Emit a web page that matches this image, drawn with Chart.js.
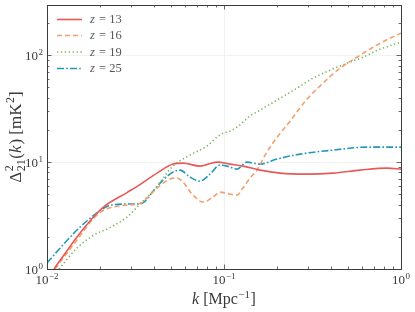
<!DOCTYPE html>
<html><head><meta charset="utf-8">
<script src="https://cdn.jsdelivr.net/npm/chart.js@4/dist/chart.umd.min.js"></script>
<style>html,body{margin:0;padding:0;background:#fff}canvas{display:block}</style>
</head><body>
<div style="width:415px;height:312px"><canvas id="c" width="415" height="312"></canvas></div>
<script>
// ---- data ----
const seriesLabels = ['13', '16', '19', '25'];

const kZ13 = [0.01095,0.01247,0.01477,0.01842,0.02099,0.02831,0.03352,0.04182,0.05150,0.05866,0.07318,0.09131,0.1081,0.1280,0.1597,0.2072,0.2944,0.4128,0.5866,0.8333,1.0];
const vZ13 = [1.0,1.352,1.991,3.095,3.837,5.188,6.163,7.893,9.579,9.788,9.176,10.0,9.579,9.176,8.420,7.893,7.726,7.893,8.420,8.789,8.603];

const kZ16 = [0.01110,0.01247,0.01477,0.01842,0.02099,0.02831,0.03397,0.03672,0.04182,0.04953,0.05426,0.05866,0.06681,0.07610,0.08667,0.09493,0.1081,0.1184,0.1280,0.1402,0.1536,0.1705,0.1941,0.2360,0.2944,0.3624,0.4520,0.5641,0.6948,0.8668,1.0];
const vZ16 = [1.0,1.295,1.866,2.997,3.559,3.965,4.139,4.609,5.715,6.936,7.086,6.504,4.915,4.228,4.709,5.243,5.022,4.915,5.715,7.086,8.420,11.63,16.06,24.17,38.80,54.74,75.59,95.79,118.8,144.2,160.6];

const kZ19 = [0.01169,0.01477,0.01842,0.02299,0.02831,0.03397,0.04022,0.05150,0.06425,0.08017,0.09131,0.09871,0.1081,0.1184,0.1280,0.1402,0.1597,0.2072,0.2585,0.3183,0.3971,0.4953,0.6099,0.7610,1.0];
const vZ19 = [1.0,1.571,2.078,2.469,3.062,4.139,5.475,9.176,11.63,14.11,17.13,18.66,19.49,21.24,23.65,27.0,30.62,39.5,49.15,60.96,72.41,84.20,95.79,113.8,132.3];

const kZ25 = [0.01000,0.01200,0.01477,0.01842,0.02099,0.02299,0.02831,0.03226,0.03532,0.04022,0.04522,0.05150,0.05641,0.06425,0.07318,0.08333,0.09493,0.1040,0.1184,0.1349,0.1597,0.1992,0.2688,0.4128,0.6425,1.0];
const vZ25 = [1.138,1.606,2.315,3.196,3.717,3.965,4.050,4.050,4.228,5.475,6.788,8.066,8.420,7.241,6.644,7.726,9.376,9.176,8.603,10.0,9.579,10.67,11.88,12.95,13.81,13.81];

const xMajorTicks = [0.01, 0.1, 1];
const xTickExp = ['\u22122', '\u22121', '0'];
const yMajorTicks = [1, 10, 100];
const yTickExp = ['0', '1', '2'];

// ---- styles ----
const colors = ['#e65a58', '#f2a06f', '#7ab457', '#2298b8'];
const dashes = [[], [5, 3], [1.3, 2.6], [7, 2.2, 1.6, 2.2]];
const serif = '"Liberation Serif", "DejaVu Serif", serif';
const textColor = '#3a3a3a';

function pts(k, v){ return k.map((x,i)=>({x:x, y:v[i]})); }

const datasets = [[kZ13,vZ13],[kZ16,vZ16],[kZ19,vZ19],[kZ25,vZ25]].map((s,i)=>({
  label: 'z = ' + seriesLabels[i],
  data: pts(s[0], s[1]),
  borderColor: colors[i],
  borderWidth: 1.6,
  borderDash: dashes[i],
  pointRadius: 0,
  fill: false,
  cubicInterpolationMode: 'monotone'
}));

function supText(ctx, base, exp, x, y, align, baseSize, expSize){
  ctx.font = baseSize + 'px ' + serif;
  const wb = ctx.measureText(base).width;
  ctx.font = expSize + 'px ' + serif;
  const we = ctx.measureText(exp).width;
  const w = wb + we + 0.5;
  let x0 = align === 'center' ? x - w/2 : (align === 'right' ? x - w : x);
  ctx.textAlign = 'left';
  ctx.textBaseline = 'alphabetic';
  ctx.font = baseSize + 'px ' + serif;
  ctx.fillText(base, x0, y);
  ctx.font = expSize + 'px ' + serif;
  ctx.fillText(exp, x0 + wb + 0.5, y - baseSize*0.42);
}

const decor = {
  id: 'decor',
  afterDraw(chart){
    const ctx = chart.ctx, a = chart.chartArea, xs = chart.scales.x, ys = chart.scales.y;
    ctx.save();
    // ticks (inward, all four sides)
    ctx.strokeStyle = '#444'; ctx.lineWidth = 0.8;
    const xt = [];
    for (let d = -2; d < 0; d++) for (let m = 1; m < 10; m++) xt.push([m*Math.pow(10,d), m===1]);
    xt.push([1, true]);
    xt.forEach(([v,maj])=>{
      const p = Math.round(xs.getPixelForValue(v)) + 0.5, L = maj ? 4.5 : 2.5;
      ctx.beginPath(); ctx.moveTo(p, a.bottom); ctx.lineTo(p, a.bottom - L);
      ctx.moveTo(p, a.top); ctx.lineTo(p, a.top + L); ctx.stroke();
    });
    const yt = [];
    for (let d = 0; d < 3; d++) for (let m = 1; m < 10; m++) { const v = m*Math.pow(10,d); if (v <= ys.max) yt.push([v, m===1]); }
    yt.forEach(([v,maj])=>{
      const p = Math.round(ys.getPixelForValue(v)) + 0.5, L = maj ? 4.5 : 2.5;
      ctx.beginPath(); ctx.moveTo(a.left, p); ctx.lineTo(a.left + L, p);
      ctx.moveTo(a.right, p); ctx.lineTo(a.right - L, p); ctx.stroke();
    });
    // frame
    ctx.strokeStyle = '#3c3c3c'; ctx.lineWidth = 1;
    ctx.strokeRect(Math.round(a.left)+0.5, Math.round(a.top)+0.5, Math.round(a.right-a.left), Math.round(a.bottom-a.top));
    // tick labels
    ctx.fillStyle = textColor;
    xMajorTicks.forEach((v,i)=>{
      supText(ctx, '10', xTickExp[i], xs.getPixelForValue(v), a.bottom + 15, 'center', 13, 9);
    });
    yMajorTicks.forEach((v,i)=>{
      supText(ctx, '10', yTickExp[i], a.left - 4, ys.getPixelForValue(v) + 5, 'right', 13, 9);
    });
    // x title: k [Mpc^-1]
    {
      const cx = (a.left + a.right)/2, y = 304;
      const f = 16, fe = 11;
      ctx.font = 'italic ' + f + 'px ' + serif; const w1 = ctx.measureText('k').width;
      ctx.font = f + 'px ' + serif; const w2 = ctx.measureText(' [Mpc').width;
      ctx.font = fe + 'px ' + serif; const w3 = ctx.measureText('\u22121').width;
      ctx.font = f + 'px ' + serif; const w4 = ctx.measureText(']').width;
      let x = cx - (w1+w2+w3+w4+1)/2;
      ctx.textAlign = 'left'; ctx.textBaseline = 'alphabetic';
      ctx.font = 'italic ' + f + 'px ' + serif; ctx.fillText('k', x, y); x += w1;
      ctx.font = f + 'px ' + serif; ctx.fillText(' [Mpc', x, y); x += w2 + 0.5;
      ctx.font = fe + 'px ' + serif; ctx.fillText('\u22121', x, y - 6.5); x += w3 + 0.5;
      ctx.font = f + 'px ' + serif; ctx.fillText(']', x, y);
    }
    // y title: Δ²₂₁(k) [mK²]
    {
      ctx.save();
      ctx.translate(21, (a.top + a.bottom)/2);
      ctx.rotate(-Math.PI/2);
      const f = 17, fs = 12;
      ctx.font = f + 'px ' + serif; const wD = ctx.measureText('\u0394').width;
      ctx.font = fs + 'px ' + serif; const wSup = ctx.measureText('2').width, wSub = ctx.measureText('21').width;
      ctx.font = f + 'px ' + serif; const wP1 = ctx.measureText('(').width;
      ctx.font = 'italic ' + f + 'px ' + serif; const wk = ctx.measureText('k').width;
      ctx.font = f + 'px ' + serif; const wP2 = ctx.measureText(') [mK').width;
      ctx.font = fs + 'px ' + serif; const w2 = ctx.measureText('2').width;
      ctx.font = f + 'px ' + serif; const wB = ctx.measureText(']').width;
      const total = wD + Math.max(wSup,wSub) + 1 + wP1 + wk + 1 + wP2 + w2 + 0.5 + wB;
      let x = -total/2; const y = 0;
      ctx.textAlign = 'left'; ctx.textBaseline = 'alphabetic';
      ctx.font = f + 'px ' + serif; ctx.fillText('\u0394', x, y); x += wD + 0.5;
      ctx.font = fs + 'px ' + serif; ctx.fillText('2', x, y - 8); ctx.fillText('21', x, y + 4); x += Math.max(wSup,wSub) + 0.5;
      ctx.font = f + 'px ' + serif; ctx.fillText('(', x, y); x += wP1;
      ctx.font = 'italic ' + f + 'px ' + serif; ctx.fillText('k', x, y); x += wk + 1;
      ctx.font = f + 'px ' + serif; ctx.fillText(') [mK', x, y); x += wP2 + 0.5;
      ctx.font = fs + 'px ' + serif; ctx.fillText('2', x, y - 7); x += w2;
      ctx.font = f + 'px ' + serif; ctx.fillText(']', x, y);
      ctx.restore();
    }
    // legend
    {
      const rows = [19.5, 35.5, 52, 68.5];
      datasets.forEach((ds,i)=>{
        const y = rows[i];
        ctx.strokeStyle = ds.borderColor; ctx.lineWidth = 1.6; ctx.setLineDash(ds.borderDash);
        ctx.beginPath(); ctx.moveTo(57, y); ctx.lineTo(82, y); ctx.stroke();
        ctx.setLineDash([]);
        ctx.fillStyle = '#555';
        ctx.textAlign = 'left'; ctx.textBaseline = 'middle';
        ctx.font = 'italic 12.5px ' + serif; ctx.fillText('z', 90, y + 0.5);
        const wz = ctx.measureText('z').width;
        ctx.font = '12.5px ' + serif; ctx.fillText(' = ' + seriesLabels[i], 90 + wz + 1, y + 0.5);
      });
    }
    ctx.restore();
  }
};

new Chart(document.getElementById('c'), {
  type: 'line',
  data: { datasets: datasets },
  options: {
    responsive: false, animation: false, devicePixelRatio: 1,
    layout: { padding: { left: 47, right: 14, top: 5, bottom: 43 } },
    plugins: { legend: { display: false }, tooltip: { enabled: false } },
    scales: {
      x: {
        type: 'logarithmic', min: 0.01, max: 1,
        afterBuildTicks: s => { s.ticks = xMajorTicks.map(v=>({value:v})); },
        ticks: { display: false },
        grid: { color: '#efefef', lineWidth: 0.8, drawTicks: false },
        border: { display: false }
      },
      y: {
        type: 'logarithmic', min: 1, max: 295,
        afterBuildTicks: s => { s.ticks = yMajorTicks.map(v=>({value:v})); },
        ticks: { display: false },
        grid: { color: '#efefef', lineWidth: 0.8, drawTicks: false },
        border: { display: false }
      }
    }
  },
  plugins: [decor]
});
</script>
</body></html>
